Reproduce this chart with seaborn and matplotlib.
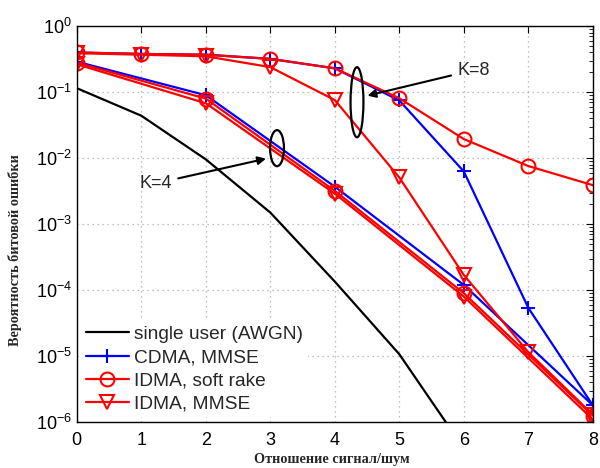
import numpy as np
import pandas as pd
import matplotlib
matplotlib.use("Agg")
import matplotlib.pyplot as plt
from matplotlib.patches import Ellipse
import seaborn as sns

# Eb/N0 axis values
snr_full = [0, 1, 2, 3, 4, 5, 6, 7, 8]
snr_k4 = [0, 2, 4, 6, 8]
snr_awgn = [0, 1, 2, 3, 4, 5, 6]

# Single user reference (AWGN)
ber_awgn = [0.115, 0.044, 0.0096, 0.0015, 1.35e-4, 1.07e-5, 4.0e-7]

# K = 4 users
ber_cdma_k4 = [0.29, 0.09, 0.0037, 1.2e-4, 1.8e-6]
ber_rake_k4 = [0.28, 0.08, 0.0032, 9.0e-5, 1.25e-6]
ber_mmse_k4 = [0.265, 0.068, 0.0029, 8.0e-5, 1.1e-6]

# K = 8 users
ber_cdma_k8 = [0.40, 0.38, 0.37, 0.32, 0.23, 0.075, 0.0063, 5.4e-5, 1.8e-6]
ber_rake_k8 = [0.40, 0.38, 0.37, 0.32, 0.23, 0.081, 0.0195, 0.0076, 0.0039]
ber_mmse_k8 = [0.39, 0.37, 0.35, 0.24, 0.076, 0.0051, 1.7e-4, 1.15e-5, 1.3e-6]

legend_labels = ["single user (AWGN)", "CDMA, MMSE", "IDMA, soft rake", "IDMA, MMSE"]

sns.set_style("white")
plt.rcParams["font.family"] = ["Liberation Sans", "DejaVu Sans"]
plt.rcParams["mathtext.fontset"] = "custom"
plt.rcParams["mathtext.rm"] = "Liberation Sans"
plt.rcParams["mathtext.it"] = "Liberation Sans:italic"
plt.rcParams["mathtext.bf"] = "Liberation Sans:bold"

fig = plt.figure(figsize=(6.0, 4.68), dpi=100)
ax = fig.add_axes([0.128, 0.098, 0.86, 0.846])
ax.set_yscale("log")

BLUE = (0, 0, 1)
RED = (1, 0, 0)
LW = 1.6
MS = 10
MEW = 1.5

def draw(x, y, color, marker=None):
    kws = dict(color=color, linewidth=LW)
    if marker is not None:
        kws.update(marker=marker, markersize=MS, markeredgewidth=MEW,
                   markeredgecolor=color, markerfacecolor="none")
    sns.lineplot(x=x, y=y, ax=ax, estimator=None, sort=False, **kws)
    return ax.lines[-1]

h_awgn = draw(snr_awgn, ber_awgn, "black")
h_cdma = draw(snr_k4, ber_cdma_k4, BLUE, "+")
draw(snr_full, ber_cdma_k8, BLUE, "+")
h_rake = draw(snr_k4, ber_rake_k4, RED, "o")
draw(snr_full, ber_rake_k8, RED, "o")
h_mmse = draw(snr_k4, ber_mmse_k4, RED, "v")
draw(snr_full, ber_mmse_k8, RED, "v")

ax.set_xlim(0, 8)
ax.set_ylim(1e-6, 1)
ax.set_xticks(range(0, 9))
ax.set_yticks([1e-6, 1e-5, 1e-4, 1e-3, 1e-2, 1e-1, 1])
ax.set_yticklabels([r"$10^{-6}$", r"$10^{-5}$", r"$10^{-4}$", r"$10^{-3}$",
                    r"$10^{-2}$", r"$10^{-1}$", r"$10^{0}$"])
ax.tick_params(axis="both", which="both", direction="in", top=True, right=True,
               labelsize=13, colors="black")
ax.tick_params(axis="both", which="major", length=5)
ax.tick_params(axis="y", which="minor", length=3)
ax.tick_params(axis="x", pad=7)
ax.grid(True, which="major", linestyle=(0, (1, 3)), color="#aaaaaa", linewidth=0.9)
ax.grid(False, which="minor")
for sp in ax.spines.values():
    sp.set_color("black")
    sp.set_linewidth(1.0)

ax.set_xlabel("Отношение сигнал/шум", fontsize=10.3, fontweight="bold",
              family=["Liberation Serif", "DejaVu Serif"])
ax.set_ylabel("Вероятность битовой ошибки", fontsize=10.3, fontweight="bold",
              family=["Liberation Serif", "DejaVu Serif"])
ax.xaxis.set_label_coords(0.495, -0.094, transform=ax.transAxes)
ax.yaxis.set_label_coords(-0.12, 0.434, transform=ax.transAxes)
ax.xaxis.label.set_va("center")
ax.yaxis.label.set_va("center")

leg = ax.legend([h_awgn, h_cdma, h_rake, h_mmse], legend_labels,
                loc="lower left", bbox_to_anchor=(0.0, 0.0), fontsize=13.8,
                frameon=True, handlelength=2.2, handletextpad=0.3,
                labelspacing=0.3, borderaxespad=0.25, borderpad=0.25)
leg.get_frame().set_facecolor("white")
leg.get_frame().set_edgecolor("none")
leg.get_frame().set_alpha(1.0)

# group markers (ellipses) with labelled arrows
ax.add_patch(Ellipse((0.388, 0.692), 0.027, 0.091, transform=ax.transAxes,
                     fill=False, edgecolor="black", linewidth=1.6, zorder=5))
ax.add_patch(Ellipse((0.543, 0.808), 0.025, 0.177, transform=ax.transAxes,
                     fill=False, edgecolor="black", linewidth=1.6, zorder=5))
arrow = dict(arrowstyle="-|>", color="black", lw=1.5, mutation_scale=12)
ax.annotate("K=4", xy=(0.372, 0.667), xycoords="axes fraction",
            xytext=(0.122, 0.603), textcoords="axes fraction",
            fontsize=13, va="center", ha="left", arrowprops=arrow, zorder=6)
ax.annotate("K=8", xy=(0.558, 0.823), xycoords="axes fraction",
            xytext=(0.737, 0.889), textcoords="axes fraction",
            fontsize=13, va="center", ha="left", arrowprops=arrow, zorder=6)

fig.savefig("out.png", dpi=100)
